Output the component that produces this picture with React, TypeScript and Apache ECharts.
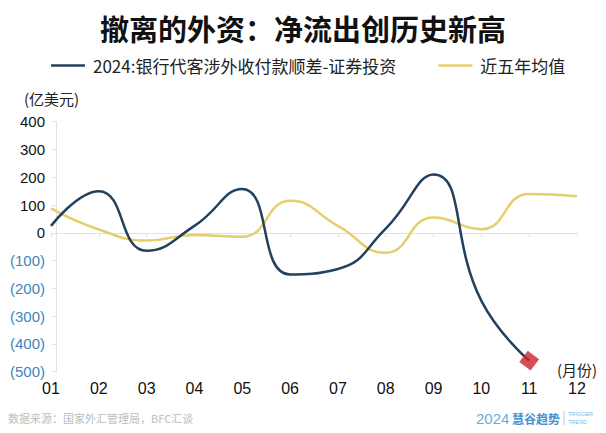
import React, { useEffect, useRef } from "react";
import * as echarts from "echarts";

const months = ["01", "02", "03", "04", "05", "06", "07", "08", "09", "10", "11", "12"];
const flows2024: (number | null)[] = [25, 150, -65, 25, 158, -150, -130, 15, 210, -245, -460, null];
const fiveYearAvg: number[] = [88, 12, -28, -8, -14, 115, 25, -72, 55, 13, 140, 132];
const latestIndex = 10;
const yMin = -500;
const yMax = 400;
const yStep = 100;

const seriesName1 = "2024:银行代客涉外收付款顺差-证券投资";
const seriesName2 = "近五年均值";
const titleText = "撤离的外资：净流出创历史新高";
const unitText = "(亿美元)";
const monthUnit = "(月份)";
const sourceText = "数据来源：国家外汇管理局，BFC汇谈";

const FONT = "'Liberation Sans', 'Noto Sans CJK SC', sans-serif";
const CJK = "'Noto Sans CJK SC', 'Liberation Sans', sans-serif";

export default function App() {
  const ref = useRef<HTMLDivElement>(null);
  useEffect(() => {
    if (!ref.current) return;
    const chart = echarts.init(ref.current, undefined, { renderer: "svg" });
    const blueData = flows2024.map((v) => (v === null ? "-" : v));
    const latestData = flows2024.map((v, i) => (i === latestIndex && v !== null ? v : "-"));
    const midText = (x: number, y: number, text: string, fontSize: number, fill: string, fontFamily: string, extra: any = {}) => ({
      type: "text",
      x,
      y,
      style: { text, fontSize, fill, fontFamily, verticalAlign: "middle", align: "left", ...extra },
    });
    chart.setOption({
      animation: false,
      backgroundColor: "#ffffff",
      title: {
        text: titleText,
        left: "center",
        top: 8,
        textStyle: { fontSize: 29, fontWeight: "bold", color: "#111", fontFamily: CJK },
      },
      legend: {
        data: [seriesName1, seriesName2],
        left: 46,
        top: 52,
        icon: "rect",
        itemWidth: 34,
        itemHeight: 2.5,
        itemGap: 42,
        textStyle: { fontSize: 17, color: "#222", fontFamily: CJK, padding: [0, 0, 0, 3] },
      },
      grid: { left: 51, right: 29, top: 121.7, bottom: 61.3, containLabel: false },
      xAxis: [
        {
          type: "category",
          data: months,
          boundaryGap: false,
          position: "bottom",
          axisLine: { show: true, onZero: true, lineStyle: { color: "#e2e2e2", width: 1 } },
          axisTick: { show: true, length: 4, lineStyle: { color: "#e2e2e2" } },
          axisLabel: { show: false },
          splitLine: { show: false },
        },
        {
          type: "category",
          data: months,
          boundaryGap: false,
          position: "bottom",
          axisLine: { show: false, onZero: false },
          axisTick: { show: false },
          axisLabel: { show: true, fontSize: 16, color: "#111", fontFamily: FONT, margin: 9 },
          splitLine: { show: false },
        },
      ],
      yAxis: {
        type: "value",
        min: yMin,
        max: yMax,
        interval: yStep,
        offset: -5,
        axisLine: { show: true, lineStyle: { color: "#e2e2e2", width: 1 } },
        axisTick: { show: true, length: 4, lineStyle: { color: "#e2e2e2" } },
        splitLine: { show: false },
        axisLabel: {
          margin: 11,
          formatter: (v: number) => (v < 0 ? `{n|(${-v})}` : `{p|${v}}`),
          rich: {
            p: { fontSize: 15, color: "#111", fontFamily: FONT },
            n: { fontSize: 15, color: "#3b86bd", fontFamily: FONT },
          },
        },
      },
      series: [
        {
          name: seriesName2,
          type: "line",
          data: fiveYearAvg,
          smooth: true,
          symbol: "none",
          lineStyle: { color: "#e4cf6c", width: 2.5 },
          itemStyle: { color: "#e4cf6c" },
          z: 2,
        },
        {
          name: seriesName1,
          type: "line",
          data: blueData,
          smooth: true,
          symbol: "none",
          lineStyle: { color: "#23405c", width: 2.5 },
          itemStyle: { color: "#23405c" },
          z: 3,
        },
        {
          name: "latest",
          type: "scatter",
          data: latestData,
          symbol: "diamond",
          symbolSize: 20,
          symbolRotate: 8,
          itemStyle: { color: "#c9242b" },
          z: 4,
        },
      ],
      graphic: [
        midText(24, 98, unitText, 15, "#222", CJK),
        midText(557, 369, monthUnit, 15, "#222", CJK),
        midText(8, 418, sourceText, 11, "#bdbdbd", CJK),
        midText(476, 418, "2024", 15, "#67aee0", FONT),
        midText(512, 418, "慧谷趋势", 12, "#3f93d3", CJK, { fontWeight: "bold" }),
        {
          type: "line",
          shape: { x1: 564, y1: 411, x2: 564, y2: 425 },
          style: { stroke: "#a9cfea", lineWidth: 1 },
        },
        midText(568, 414, "TRIGGER", 5.5, "#7fb8e2", FONT),
        midText(568, 422, "TREND", 5.5, "#7fb8e2", FONT),
      ],
    });
    return () => chart.dispose();
  }, []);
  return (
    <div
      ref={ref}
      style={{ position: "fixed", left: 0, top: 0, width: 606, height: 433, background: "#fff" }}
    />
  );
}
